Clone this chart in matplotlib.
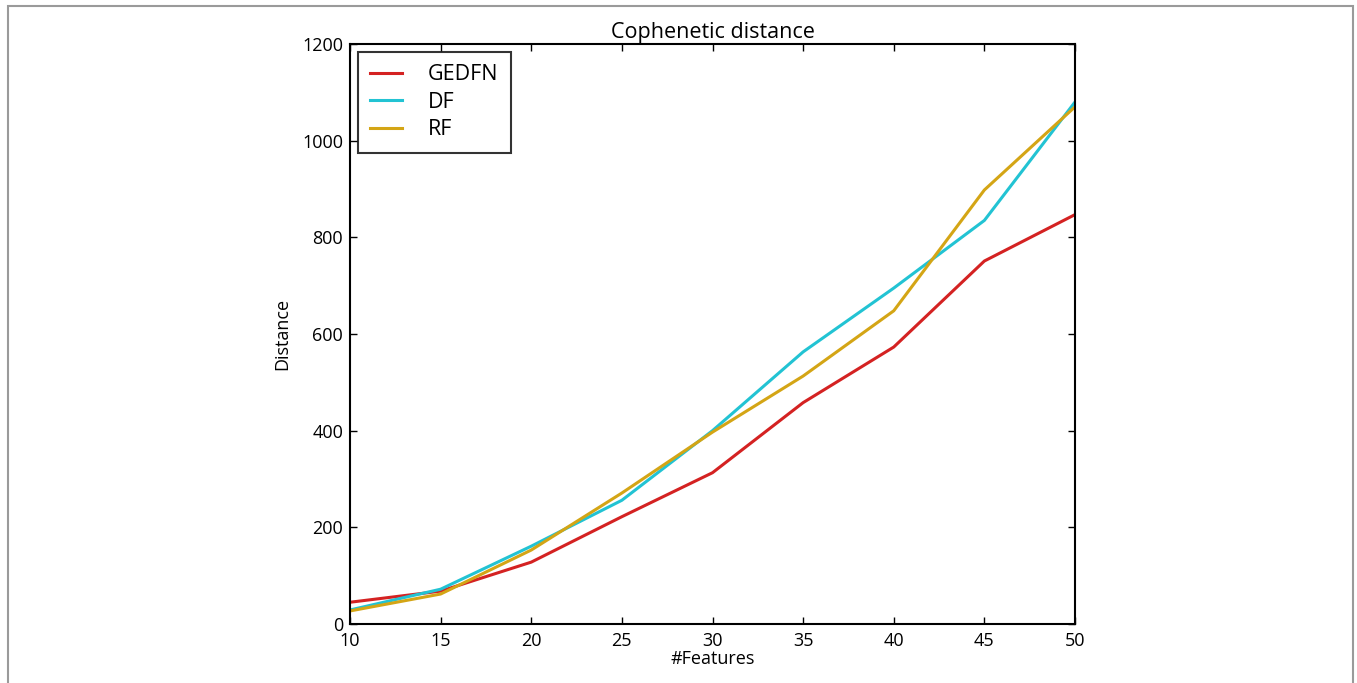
import matplotlib
matplotlib.use("Agg")
import matplotlib.pyplot as plt
from matplotlib.patches import Rectangle

features = [10, 15, 20, 25, 30, 35, 40, 45, 50]
gedfn = [45, 68, 128, 222, 313, 458, 573, 751, 847]
df = [29, 72, 161, 256, 400, 563, 695, 835, 1080]
rf = [27, 62, 153, 271, 397, 513, 648, 898, 1070]
series_names = ["GEDFN", "DF", "RF"]
colors = ["#d42222", "#22c3d3", "#d4a515"]

plt.rcParams['font.family'] = ['Open Sans', 'DejaVu Sans']

W, H = 1357, 683
fig = plt.figure(figsize=(W / 100, H / 100), dpi=100)
fig.patch.set_facecolor("white")

# thin grey frame around the figure
fig.patches.append(Rectangle((8 / W, -0.01), (1353 - 8) / W, 1 - 6 / H + 0.01,
                             transform=fig.transFigure, fill=False,
                             edgecolor="#9a9a9a", linewidth=1.5))

ax = fig.add_axes([350 / W, 1 - 624 / H, (1075 - 350) / W, (624 - 44) / H])
for vals, name, c in zip([gedfn, df, rf], series_names, colors):
    ax.plot(features, vals, color=c, linewidth=2.2, label=name)

ax.set_xlim(10, 50)
ax.set_ylim(0, 1200)
ax.set_xticks([10, 15, 20, 25, 30, 35, 40, 45, 50])
ax.set_yticks([0, 200, 400, 600, 800, 1000, 1200])
ax.tick_params(direction="in", top=True, right=True, length=5, width=1,
               labelsize=13)
ax.tick_params(axis="x", pad=6)
ax.tick_params(axis="y", pad=5)
for s in ax.spines.values():
    s.set_linewidth(1.5)
ax.set_title("Cophenetic distance", fontsize=15.5, pad=4)
ax.set_xlabel("#Features", fontsize=13, labelpad=0)
ax.set_ylabel("Distance", fontsize=13, labelpad=8)

leg = ax.legend(loc="upper left", fontsize=15.5, frameon=True, fancybox=False,
                handlelength=1.45, handletextpad=1.2, borderpad=0.45,
                labelspacing=0.3, borderaxespad=0.5)
leg.get_frame().set_edgecolor("black")
leg.get_frame().set_linewidth(1.5)
leg._legend_box.align = "left"
leg.get_frame().set_boxstyle("square", pad=0.15)

fig.savefig("out.png", dpi=100)
